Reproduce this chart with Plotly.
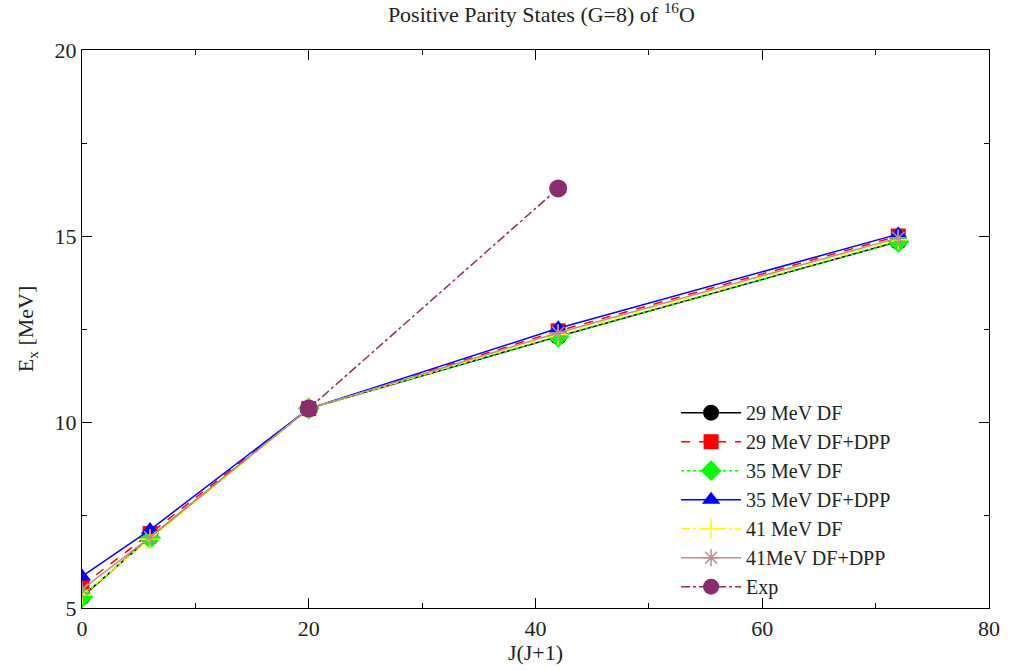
import plotly.graph_objects as go

x_theory = [0, 6, 20, 42, 72]
df29 = [5.30, 6.90, 10.36, 12.30, 14.85]
dpp29 = [5.60, 7.00, 10.36, 12.45, 15.00]
df35 = [5.30, 6.88, 10.36, 12.30, 14.85]
dpp35 = [5.85, 7.10, 10.36, 12.52, 15.05]
df41 = [5.35, 6.85, 10.36, 12.35, 14.90]
dpp41 = [5.50, 6.90, 10.36, 12.40, 14.95]
x_exp = [20, 42]
exp_vals = [10.36, 16.28]

names = ["29 MeV DF", "29 MeV DF+DPP", "35 MeV DF", "35 MeV DF+DPP",
         "41 MeV DF", "41MeV DF+DPP", "Exp"]

fig = go.Figure()
series = [
    (x_theory, df29, names[0], "black", "solid", "circle", 17),
    (x_theory, dpp29, names[1], "red", "dash", "square", 15),
    (x_theory, df35, names[2], "#00FF00", "dot", "diamond", 17),
    (x_theory, dpp35, names[3], "blue", "solid", "triangle-up", 16),
    (x_theory, df41, names[4], "#FFFF00", "dashdot", "cross-thin", 14),
    (x_theory, dpp41, names[5], "#BC8F8F", "solid", "asterisk-open", 14),
    (x_exp, exp_vals, names[6], "#8B2C6E", "dashdot", "circle", 18),
]
for xs, ys, nm, col, dash, sym, sz in series:
    mk = dict(symbol=sym, size=sz, color=col)
    if sym in ("cross-thin", "asterisk-open"):
        mk["line"] = dict(color=col, width=1.5)
    fig.add_trace(go.Scatter(x=xs, y=ys, name=nm, mode="lines+markers",
                             line=dict(color=col, dash=dash, width=1.5),
                             marker=mk))

axis_common = dict(showline=True, linecolor="black", linewidth=1.2, mirror="ticks",
                   ticks="inside", ticklen=10, tickcolor="black", showgrid=False,
                   zeroline=False, tickfont=dict(family="Liberation Serif", size=22, color="#222"))

fig.update_layout(
    width=1012, height=670,
    margin=dict(l=82, r=19, t=50, b=58),
    paper_bgcolor="white", plot_bgcolor="white",
    font=dict(family="Liberation Serif", color="#222"),
    title=dict(text="Positive Parity States (G=8) of <sup>16</sup>O",
               x=0.535, xanchor="center", y=0.99, yanchor="top",
               font=dict(family="Liberation Serif", size=22)),
    xaxis=dict(range=[0, 80], tickvals=[0, 20, 40, 60, 80],
               minor=dict(ticks="inside", ticklen=5, tickvals=[10, 30, 50, 70], tickcolor="black"),
               title=dict(text="J(J+1)", font=dict(size=22), standoff=2),
               **axis_common),
    yaxis=dict(range=[5, 20], tickvals=[5, 10, 15, 20],
               minor=dict(ticks="inside", ticklen=5, tickvals=[7.5, 12.5, 17.5], tickcolor="black"),
               title=dict(text="E<sub>x</sub> [MeV]", font=dict(size=22), standoff=14),
               **axis_common),
    legend=dict(x=0.655, y=0.385, xanchor="left", yanchor="top",
                bgcolor="rgba(0,0,0,0)", font=dict(family="Liberation Serif", size=20),
                itemwidth=60, tracegroupgap=0),
    showlegend=True,
)

fig.write_html("out.html")
